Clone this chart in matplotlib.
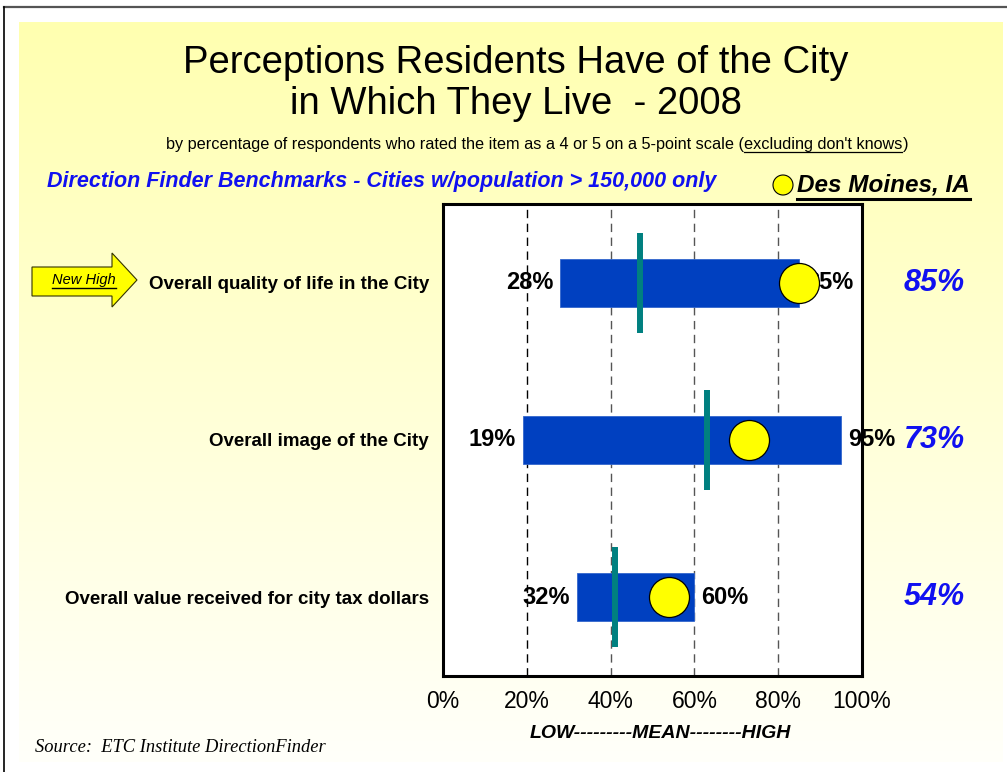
import matplotlib
matplotlib.use("Agg")
import matplotlib.pyplot as plt
import matplotlib.transforms as mtransforms
from matplotlib.patches import Polygon, Circle
import numpy as np

plt.rcParams['font.family'] = ['Liberation Sans', 'DejaVu Sans']

# ---------------- data ----------------
categories = ["Overall quality of life in the City",
              "Overall image of the City",
              "Overall value received for city tax dollars"]
low_values = [28, 19, 32]
high_values = [85, 95, 60]
mean_values = [47, 63, 41]
des_moines_values = [85, 73, 54]
x_ticks = [0, 20, 40, 60, 80, 100]
x_tick_labels = ["0%", "20%", "40%", "60%", "80%", "100%"]
grid_positions = [20, 40, 60, 80]

W, H = 1007, 772
fig = plt.figure(figsize=(W / 100, H / 100), dpi=100)
fig.patch.set_facecolor('white')

# background / decoration axes in pixel coordinates (y down)
bg = fig.add_axes([0, 0, 1, 1], zorder=0)
bg.set_xlim(0, W)
bg.set_ylim(H, 0)
bg.axis('off')

top_c = np.array([255, 255, 176]) / 255
bot_c = np.array([255, 255, 250]) / 255
t = np.linspace(0, 1, 256)[:, None]
grad = (top_c[None, :] * (1 - t) + bot_c[None, :] * t)[:, None, :]
bg.imshow(grad, extent=(19, 1003, 762, 22), aspect='auto', zorder=0)
bg.plot([4, W], [7, 7], color='#555555', lw=1.6, zorder=1)
bg.plot([4, 4], [7, H], color='black', lw=1.2, zorder=1)

# titles
bg.text(516, 63, "Perceptions Residents Have of the City", ha='center', va='center',
        fontsize=27.5, color='black')
bg.text(516, 104, "in Which They Live  - 2008", ha='center', va='center',
        fontsize=27.5, color='black')

fig.canvas.draw()
renderer = fig.canvas.get_renderer()
inv = bg.transData.inverted()


def px_extent(txt):
    bb = txt.get_window_extent(renderer)
    (x0, y0), (x1, y1) = inv.transform([(bb.x0, bb.y0), (bb.x1, bb.y1)])
    return x0, x1, max(y0, y1)


def underline(txt, lw=1.0, dy=0.0):
    x0, x1, yb = px_extent(txt)
    bg.plot([x0, x1], [yb + dy, yb + dy], color='black', lw=lw, zorder=3)


# subtitle with underlined part
sub_fs = 11.7
parts = ["by percentage of respondents who rated the item as a 4 or 5 on a 5-point scale (",
         "excluding don't knows", ")"]
tmp = [bg.text(0, 0, p, fontsize=sub_fs) for p in parts]
fig.canvas.draw()
widths = [px_extent(tt)[1] - px_extent(tt)[0] for tt in tmp]
for tt in tmp:
    tt.remove()
xs = 537 - sum(widths) / 2
sub_texts = []
for p, w in zip(parts, widths):
    sub_texts.append(bg.text(xs, 145, p, fontsize=sub_fs, ha='left', va='center'))
    xs += w
fig.canvas.draw()
underline(sub_texts[1], lw=0.9, dy=-1)

bg.text(47, 181, "Direction Finder Benchmarks - Cities w/population > 150,000 only",
        ha='left', va='center', fontsize=15.5, fontweight='bold', fontstyle='italic',
        color='#1010F0')
bg.add_patch(Circle((783, 185), 10, facecolor='#FFFF00', edgecolor='black', lw=0.8, zorder=3))
dm = bg.text(797, 185, "Des Moines, IA", ha='left', va='center', fontsize=17.5,
             fontweight='bold', fontstyle='italic', color='black')
fig.canvas.draw()
underline(dm, lw=2.2, dy=2)

# New High arrow
arrow_pts = [(32, 267), (112, 267), (112, 253), (137, 280), (112, 307), (112, 296), (32, 296)]
bg.add_patch(Polygon(arrow_pts, closed=True, facecolor='#FFFF00', edgecolor='#333300',
                     lw=0.8, zorder=3))
nh = bg.text(84, 280, "New High", ha='center', va='center', fontsize=10.5,
             fontstyle='italic', color='black', zorder=4)
fig.canvas.draw()
underline(nh, lw=1.0, dy=1)

bg.text(660, 733, "LOW---------MEAN--------HIGH", ha='center', va='center',
        fontsize=14, fontweight='bold', fontstyle='italic')
bg.text(35, 748, "Source:  ETC Institute DirectionFinder", ha='left', va='center',
        fontsize=13.3, fontstyle='italic', family=['Liberation Serif', 'DejaVu Serif'])

# ---------------- main chart ----------------
ax = fig.add_axes([443 / W, 1 - 676 / H, 419 / W, 472 / H], zorder=1)
ax.set_facecolor('white')
n = len(categories)
y = np.arange(n) + 0.5
ax.set_xlim(0, 100)
ax.set_ylim(n, 0)

for g in grid_positions:
    ax.axvline(g, color='black' if g == 20 else '#555555', lw=1.0,
               linestyle=(0, (6, 4)), zorder=1)

lows = np.array(low_values)
highs = np.array(high_values)
ax.barh(y, highs - lows, left=lows, height=0.305, color='#0040C0',
        edgecolor='#3366CC', lw=0.6, zorder=2)
ax.vlines(mean_values, y - 0.318, y + 0.318, color='#008080', lw=4.3, zorder=3)

for yi, lo, hi in zip(y, low_values, high_values):
    ax.annotate(f"{lo}%", (lo, yi), xytext=(-5, 0), textcoords='offset points',
                ha='right', va='center', fontsize=17, fontweight='bold',
                zorder=4, annotation_clip=False)
    ax.annotate(f"{hi}%", (hi, yi), xytext=(5, 0), textcoords='offset points',
                ha='left', va='center', fontsize=17, fontweight='bold',
                zorder=4, annotation_clip=False)

ax.scatter(des_moines_values, y, s=830, c='#FFFF00', edgecolors='black',
           linewidths=0.9, zorder=5, clip_on=False)

blend = mtransforms.blended_transform_factory(bg.transData, ax.transData)
for yi, v in zip(y, des_moines_values):
    ax.text(934, yi, f"{v}%", transform=blend, ha='center', va='center',
            fontsize=22, fontweight='bold', fontstyle='italic', color='#1010F0',
            clip_on=False, zorder=6)

ax.set_yticks(y)
ax.set_yticklabels(categories, fontsize=13.5, fontweight='bold')
ax.set_xticks(x_ticks)
ax.set_xticklabels(x_tick_labels, fontsize=16.5)
ax.tick_params(axis='both', length=0)
ax.tick_params(axis='y', pad=10)
ax.tick_params(axis='x', pad=10)
for s in ax.spines.values():
    s.set_linewidth(2.2)
    s.set_color('black')
    s.set_zorder(7)

fig.savefig("out.png", dpi=100, facecolor='white')
